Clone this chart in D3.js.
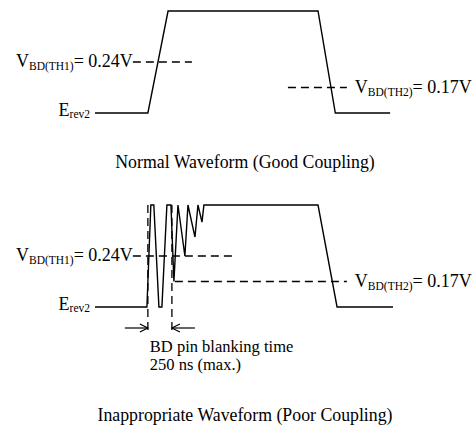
<!DOCTYPE html>
<html>
<head>
<meta charset="utf-8">
<script src="https://cdn.jsdelivr.net/npm/d3@7"></script>
<style>
  body { margin: 0; background: #fff; }
  text { font-family: "Liberation Serif", "Times New Roman", serif; fill: #000; }
</style>
</head>
<body>
<svg id="chart" width="476" height="428"></svg>
<script>
var svg = d3.select("#chart");

// levels (V) and time (ns)
var LOW = 0.10, HIGH = 0.38;
var TH1 = 0.24, TH2 = 0.17;

var goodWave = [[-550, LOW], [0, LOW], [210, HIGH], [1770, HIGH], [1950, LOW], [2520, LOW]];
var poorWave = [[-550, LOW], [-10, LOW], [31, HIGH], [62, HIGH], [115, LOW], [146, LOW],
  [198, HIGH], [240, HIGH], [271, 0.17], [313, HIGH], [385, 0.24], [417, HIGH],
  [490, 0.292], [521, HIGH], [563, 0.333], [583, HIGH], [1770, HIGH], [1968, LOW], [2550, LOW]];

var goodTh1 = [-156, 458], goodTh2 = [1457, 2070];
var poorTh1 = [-156, 874], poorTh2 = [281, 2070];
var blanking = [0, 250];

var captions = ["Normal Waveform (Good Coupling)", "Inappropriate Waveform (Poor Coupling)"];
var blankText = ["BD pin blanking time", "250 ns (max.)"];

var x = d3.scaleLinear().domain([-550, 2550]).range([95, 393]);
var yTop = d3.scaleLinear().domain([LOW, HIGH]).range([113, 11]);
var yBot = d3.scaleLinear().domain([LOW, HIGH]).range([307, 205]);

function line(y) {
  return d3.line().x(function(d) { return x(d[0]); }).y(function(d) { return y(d[1]); });
}

function dashed(x1, y1, x2, y2) {
  svg.append("line")
    .attr("x1", x1).attr("y1", y1).attr("x2", x2).attr("y2", y2)
    .attr("stroke", "#000").attr("stroke-width", 1.3)
    .attr("stroke-dasharray", "8,5");
}

function vLabel(xp, yp, anchor, sub, rest) {
  var t = svg.append("text").attr("x", xp).attr("y", yp)
    .attr("text-anchor", anchor).style("font-size", "18px");
  t.append("tspan").text("V");
  t.append("tspan").attr("dy", 3).style("font-size", "11.5px").text(sub);
  t.append("tspan").attr("dy", -3).text(rest);
}

function eLabel(xp, yp) {
  var t = svg.append("text").attr("x", xp).attr("y", yp)
    .attr("text-anchor", "end").style("font-size", "18px");
  t.append("tspan").text("E");
  t.append("tspan").attr("dy", 2).style("font-size", "11.5px").text("rev2");
}

function panel(y, wave, th1, th2, caption, capY) {
  dashed(x(th1[0]), y(TH1), x(th1[1]), y(TH1));
  dashed(x(th2[0]), y(TH2), x(th2[1]), y(TH2));

  svg.append("path").datum(wave)
    .attr("d", line(y))
    .attr("fill", "none")
    .attr("stroke", "#000")
    .attr("stroke-width", 1.4)
    .attr("stroke-linejoin", "miter");

  vLabel(x(th1[0]), y(TH1) + 5, "end", "BD(TH1)", "= 0.24V");
  vLabel(x(th2[1]) + 8, y(TH2) + 5, "start", "BD(TH2)", "= 0.17V");
  eLabel(x(wave[0][0]) - 5, y(LOW) + 3);

  svg.append("text").attr("x", 245).attr("y", capY)
    .attr("text-anchor", "middle").style("font-size", "17.8px")
    .text(caption);
}

panel(yTop, goodWave, goodTh1, goodTh2, captions[0], 168);
panel(yBot, poorWave, poorTh1, poorTh2, captions[1], 421);

// blanking markers
var arrowY = yBot(LOW) + 21;
blanking.forEach(function(t, i) {
  var xp = x(t);
  dashed(xp, yBot(HIGH), xp, arrowY + 6);
  var dir = i === 0 ? -1 : 1;
  svg.append("line")
    .attr("x1", xp).attr("y1", arrowY).attr("x2", xp + dir * 23).attr("y2", arrowY)
    .attr("stroke", "#000").attr("stroke-width", 1.2);
  svg.append("path")
    .attr("d", "M" + (xp + dir * 8) + "," + (arrowY - 4) + "L" + xp + "," + arrowY + "L" + (xp + dir * 8) + "," + (arrowY + 4))
    .attr("fill", "none").attr("stroke", "#000").attr("stroke-width", 1.2);
});

svg.selectAll(".blank").data(blankText).enter().append("text")
  .attr("class", "blank")
  .attr("x", x(blanking[0]) + 2)
  .attr("y", function(d, i) { return 352 + i * 18; })
  .style("font-size", "16.5px")
  .text(function(d) { return d; });
</script>
</body>
</html>
